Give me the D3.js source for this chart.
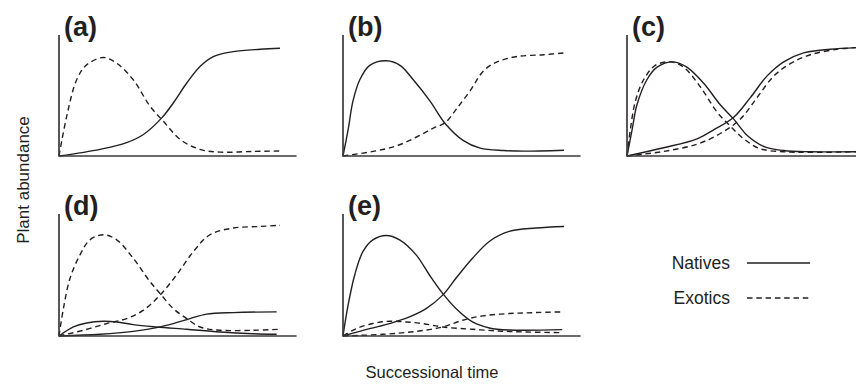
<!DOCTYPE html>
<html>
<head>
<meta charset="utf-8">
<script src="https://cdn.jsdelivr.net/npm/d3@7"></script>
<style>
  html, body { margin: 0; padding: 0; background: #fff; }
  svg { display: block; font-family: "Liberation Sans", Arial, Helvetica, sans-serif; }
</style>
</head>
<body>
<div id="chart"></div>
<script>
// Layout
const width = 856;
const height = 386;
const ink = "#231f20";

// Data: [time, abundance], time 0..10, abundance 0..100
const a_natives = [[0,0],[1.86,5.5],[3.06,11],[3.82,17.8],[4.65,31.5],[5.17,43.8],[5.78,60.3],[6.38,74],[6.98,82.2],[7.89,86.3],[9.1,88.2],[10,89]];
const a_exotics = [[0,0],[0.35,32.9],[0.8,63],[1.25,75.3],[2.01,81.4],[2.61,76.7],[3.36,63],[4.12,41.1],[4.72,28.8],[5.48,13.7],[6.38,5.5],[7.29,3.2],[8.79,3.8],[10,4.1]];

const b_natives = [[0,0],[0.23,21.6],[0.45,45.3],[0.76,63],[1.21,74.9],[1.97,78.7],[2.58,74.9],[3.18,63],[3.94,45.3],[4.62,26.9],[5.45,12.7],[6.21,6.5],[7.27,4.5],[8.18,4],[10,4.8]];
const b_exotics = [[0,0],[1.36,3.8],[2.42,8.3],[3.33,15.7],[4.09,23.1],[4.62,27.5],[5.15,39.3],[5.76,54.1],[6.36,70.4],[6.97,77.8],[7.88,82.2],[9.09,83.7],[10,85.2]];

const c_natives_early = [[0,0],[0.23,21.6],[0.45,42.3],[0.9,63],[1.36,73.4],[2.11,77.8],[2.71,73.4],[3.47,60.1],[4.22,42.3],[4.83,30.5],[5.43,17.2],[6.18,8],[7.09,4.5],[8.3,3.5],[10.4,3.5]];
const c_exotics_early = [[0,0],[0.15,21.6],[0.38,45.3],[0.75,63],[1.28,74.9],[1.96,77.8],[2.56,73.4],[3.32,57.1],[4.07,36.4],[4.68,24.6],[5.28,14.2],[6.03,6],[7.09,3.5],[8.3,3],[10.4,3.5]];
const c_natives_late = [[0,0],[1.66,6.8],[3.17,14.2],[3.92,21.6],[4.83,32],[5.58,48.2],[6.33,66],[7.09,77.8],[7.99,85.2],[9.2,88.2],[10.4,89.6]];
const c_exotics_late = [[0,0],[1.66,3.8],[3.17,9.8],[4.22,18.6],[5.13,30.5],[5.88,48.2],[6.64,66],[7.39,76.3],[8.3,83.7],[9.5,88.2],[10.4,89.6]];

const d_natives_early = [[0,0],[0.65,7.4],[1.25,10.7],[2.01,12.1],[2.61,11.5],[3.36,9.3],[4.42,7.4],[5.78,5.5],[7.29,3.3],[8.79,1.9],[9.85,1.4]];
const d_natives_late = [[0,0],[1.86,1.4],[3.36,3.8],[4.42,6.9],[5.17,10.2],[5.93,14.3],[6.68,17.9],[7.89,19.2],[9.85,19.8]];
const d_exotics_early = [[0,0],[0.2,22.5],[0.5,47.3],[0.95,66.5],[1.4,78.8],[2.01,83],[2.61,78.8],[3.36,63.7],[4.12,44.5],[4.57,34.9],[5.17,22.5],[5.78,14.3],[6.38,7.4],[7.29,4.7],[8.79,4.7],[10,5.5]];
const d_exotics_late = [[0,0],[1.1,4.7],[2.16,10.2],[3.06,14.3],[3.82,21.2],[4.57,33.5],[5.32,50],[6.08,69.2],[6.83,83],[7.89,88.5],[9.1,89.8],[10,90.7]];

const e_natives_early = [[0,0],[0.23,25.3],[0.53,50],[0.9,69.2],[1.35,78.8],[1.95,82.4],[2.56,78.8],[3.31,66.5],[3.91,50],[4.51,34.9],[5.11,22.5],[5.86,11.5],[6.62,6.6],[7.52,4.9],[9.92,5.2]];
const e_natives_late = [[0,0],[1.2,6],[2.11,10.2],[3.01,15.7],[3.76,22.5],[4.51,33.5],[5.11,47.3],[5.86,63.7],[6.62,77.5],[7.52,85.7],[8.72,88.5],[10,89.8]];
const e_exotics_early = [[0,0],[0.6,6],[1.35,10.2],[2.11,12.1],[2.86,11.5],[3.61,10.2],[4.51,7.4],[5.86,5.5],[7.37,3.8],[9.92,2.7]];
const e_exotics_late = [[0,0],[1.8,1.4],[3.31,3.8],[4.51,7.4],[5.41,12.9],[6.32,16.5],[7.52,18.4],[8.72,19.2],[10,19.8]];

const panel_labels = ["(a)", "(b)", "(c)", "(d)", "(e)"];
const legend_labels = ["Natives", "Exotics"];

// panel frames: left = y-axis x, top/bottom of the y-axis
const frames = [
  {left: 59,  top: 35,  bottom: 156},
  {left: 343, top: 35,  bottom: 156},
  {left: 627, top: 35,  bottom: 156},
  {left: 59,  top: 214, bottom: 336},
  {left: 343, top: 214, bottom: 336}
];

const series = [
  [[a_natives, "Natives"], [a_exotics, "Exotics"]],
  [[b_natives, "Natives"], [b_exotics, "Exotics"]],
  [[c_natives_early, "Natives"], [c_exotics_early, "Exotics"], [c_natives_late, "Natives"], [c_exotics_late, "Exotics"]],
  [[d_natives_early, "Natives"], [d_natives_late, "Natives"], [d_exotics_early, "Exotics"], [d_exotics_late, "Exotics"]],
  [[e_natives_early, "Natives"], [e_natives_late, "Natives"], [e_exotics_early, "Exotics"], [e_exotics_late, "Exotics"]]
];

const dash = "5.5,3.8";

const svg = d3.select("#chart").append("svg")
  .attr("width", width)
  .attr("height", height);

frames.forEach((f, i) => {
  const x = d3.scaleLinear().domain([0, 10]).range([f.left, f.left + 221]);
  const y = d3.scaleLinear().domain([0, 100]).range([f.bottom, f.top]);
  const g = svg.append("g");

  const line = d3.line()
    .x(d => x(d[0]))
    .y(d => y(d[1]))
    .curve(d3.curveCatmullRom.alpha(0.5));

  g.selectAll("path.curve").data(series[i]).join("path")
    .attr("class", "curve")
    .attr("d", d => line(d[0]))
    .attr("fill", "none")
    .attr("stroke", ink)
    .attr("stroke-width", 1.4)
    .attr("stroke-dasharray", d => d[1] === "Exotics" ? dash : null);

  // axes: bare lines, no ticks
  g.append("path")
    .attr("d", `M${f.left},${f.top}V${f.bottom}H${x(10.75)}`)
    .attr("fill", "none")
    .attr("stroke", "#3a3a3a")
    .attr("stroke-width", 1.7);

  g.append("text")
    .attr("x", f.left + 5)
    .attr("y", f.top + 1)
    .attr("font-size", 27)
    .attr("font-weight", "bold")
    .attr("fill", ink)
    .text(panel_labels[i]);
});

// axis titles
svg.append("text")
  .attr("transform", "translate(29,180) rotate(-90)")
  .attr("text-anchor", "middle")
  .attr("font-size", 17)
  .attr("fill", ink)
  .text("Plant abundance");

svg.append("text")
  .attr("x", 432)
  .attr("y", 378)
  .attr("text-anchor", "middle")
  .attr("font-size", 16.5)
  .attr("fill", ink)
  .text("Successional time");

// legend
const legend = svg.append("g");
legend_labels.forEach((name, i) => {
  const ly = 263 + i * 35;
  legend.append("text")
    .attr("x", 730)
    .attr("y", ly + 6)
    .attr("text-anchor", "end")
    .attr("font-size", 17.5)
    .attr("fill", ink)
    .text(name);
  legend.append("line")
    .attr("x1", 747).attr("x2", 810)
    .attr("y1", ly).attr("y2", ly)
    .attr("stroke", ink)
    .attr("stroke-width", 1.4)
    .attr("stroke-dasharray", name === "Exotics" ? dash : null);
});
</script>
</body>
</html>
